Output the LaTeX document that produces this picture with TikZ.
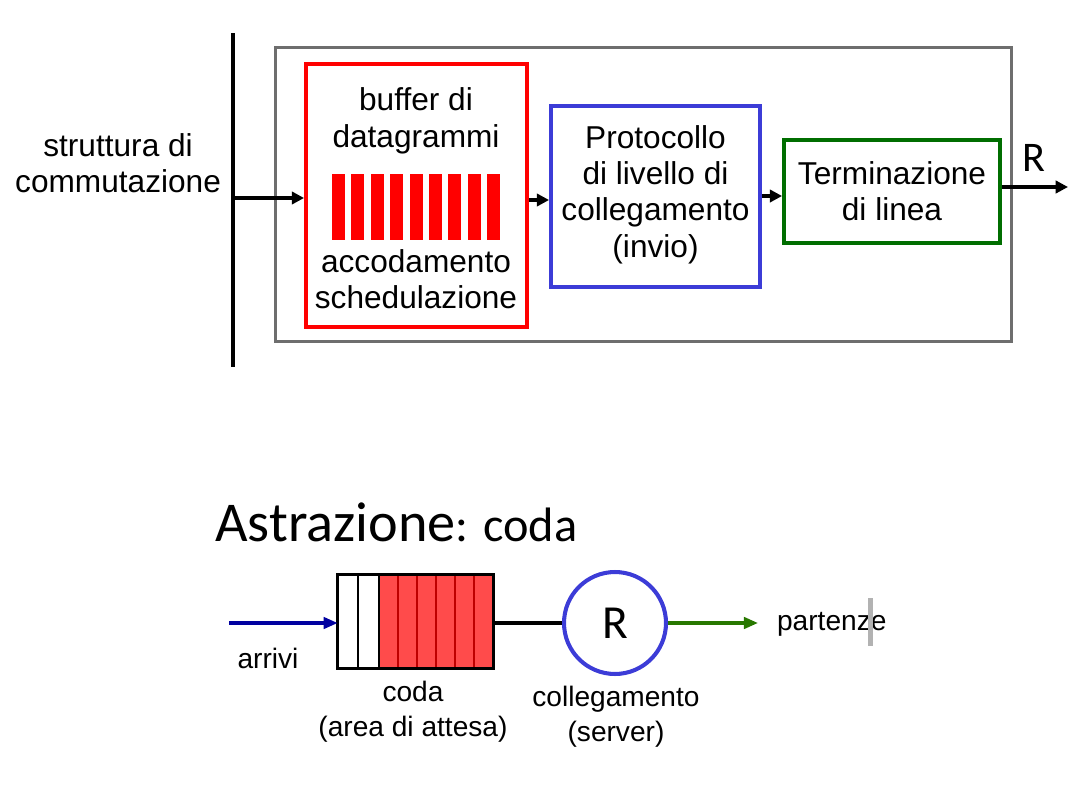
\documentclass[tikz,border=0pt]{standalone}
\usepackage{fontspec}
\setmainfont{Liberation Sans}
\newfontfamily\calibri{Carlito}
\usetikzlibrary{arrows.meta, positioning}

\definecolor{boxgray}{RGB}{110,110,110}
\definecolor{bufred}{RGB}{255,0,0}
\definecolor{protoblue}{RGB}{60,60,215}
\definecolor{termgreen}{RGB}{0,110,0}
\definecolor{queuered}{RGB}{255,75,75}
\definecolor{cellred}{RGB}{190,0,0}
\definecolor{inblue}{RGB}{0,0,160}
\definecolor{outgreen}{RGB}{40,120,0}

\begin{document}
\begin{tikzpicture}[
    x=0.02cm, y=-0.02cm,
    % Stili dei nodi
    block/.style={rectangle, line width=2.2pt, inner sep=0pt, align=center, font=\fontsize{18}{20.7}\selectfont},
    label/.style={align=center, inner sep=1pt, font=\fontsize{18}{20.7}\selectfont},
    small/.style={align=center, inner sep=1pt, font=\fontsize{16}{20}\selectfont},
    arrow/.style={-{Triangle[length=7pt, width=7pt]}, line width=2pt},
    thin arrow/.style={-{Triangle[length=8pt, width=6.5pt]}, line width=1.8pt}
]
    \useasboundingbox (0,0) rectangle (1076,805);

    % ==================== PORTA DI USCITA ====================
    \node [block, draw=boxgray, line width=1.7pt, minimum width=14.74cm, minimum height=5.9cm] (port) at (643.5,194.5) {};
    \draw [line width=2.3pt] (233,33) -- (233,367);
    \coordinate (bus) at (233,198);
    \node [label, anchor=east] (fabric) at (223,163) {struttura di\\commutazione};

    % Buffer
    \node [block, draw=bufred, minimum width=4.42cm, minimum height=5.26cm] (buf) at (416.5,195.5) {};
    \node [label] (buftitle) at (416,121) {buffer di\\datagrammi};
    \foreach \i in {0,...,8}
        \fill [bufred] (332+19.4*\i,174) rectangle ++(13,66);
    \node [label] (bufsched) at (416,279) {accodamento\\schedulazione};

    % Protocollo e terminazione
    \node [block, draw=protoblue, minimum width=4.18cm, minimum height=3.62cm] (proto) at (655.5,196.5) {\rule{0pt}{0pt}Protocollo\\di livello di\\collegamento\\(invio)\rule[-6pt]{0pt}{0pt}};
    \node [block, draw=termgreen, minimum width=4.32cm, minimum height=2.06cm] (term) at (892,191.5) {Terminazione\\di linea};
    \coordinate (out) at (1068,187);
    \node [font=\calibri\fontsize{24}{26}\selectfont, inner sep=0pt] (rate) at (1034,158) {R};

    \draw [arrow] (bus) -- (buf.west |- bus);
    \draw [arrow] (buf.east |- 0,200) -- (proto.west |- 0,200);
    \draw [arrow] (proto.east |- 0,196) -- (term.west |- 0,196);
    \draw [arrow] (term.east |- out) -- (out);

    % ==================== ASTRAZIONE ====================
    \node [anchor=base west, inner sep=0pt, font=\calibri] (title) at (215,541) {\fontsize{32}{36}\selectfont Astrazione\fontsize{27.5}{30}\selectfont: coda};

    % Coda
    \node [rectangle, inner sep=0pt, minimum width=3.1cm, minimum height=1.86cm] (queue) at (415.5,621.5) {};
    \fill [queuered] (379,575) rectangle (493,668);
    \foreach \x in {398,417,436,455,474}
        \draw [cellred, line width=1.2pt] (\x,575) -- (\x,668);
    \foreach \x in {358,379}
        \draw [line width=1.6pt] (\x,575) -- (\x,668);
    \draw [line width=1.7pt] (queue.south west) rectangle (queue.north east);

    % Server
    \node [circle, draw=protoblue, line width=2.3pt, minimum size=2.04cm, inner sep=0pt, font=\calibri\fontsize{27}{29}\selectfont] (server) at (615,623) {R};
    \draw [line width=2pt] (queue.east |- server) -- (server.west);

    % Arrivi e partenze
    \coordinate (in) at (229,623);
    \coordinate (away) at (758,623);
    \draw [thin arrow, inblue] (in) -- (queue.west |- in);
    \draw [thin arrow, outgreen] (server.east) -- (away);
    \node [small] (arrivals) at (268,658) {arrivi};
    \node [small, anchor=west] (departures) at (775,624) {partenze};
    \node [rectangle, fill=gray!60, minimum width=0.1cm, minimum height=0.96cm, inner sep=0pt] (cursor) at (870.5,622) {};

    \node [small] (queuelabel) at (413,712) {coda\\(area di attesa)};
    \node [small] (serverlabel) at (616,717) {collegamento\\(server)};
\end{tikzpicture}
\end{document}
